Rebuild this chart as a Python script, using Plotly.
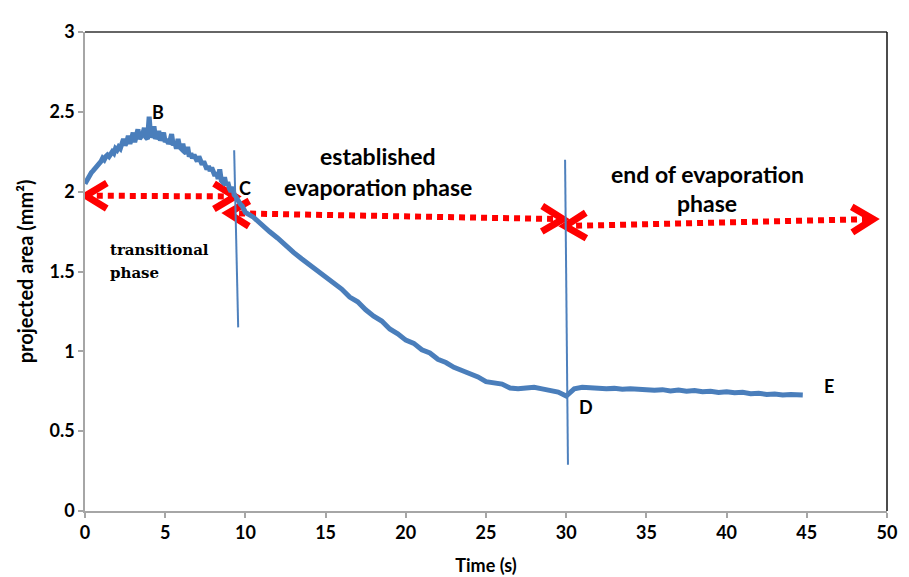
import plotly.graph_objects as go

# ---------------- data ----------------
time_s = [
    0.0, 0.1, 0.2, 0.3, 0.4, 0.5, 0.6, 0.7, 0.8, 0.9,
    1.0, 1.1, 1.2, 1.3, 1.4, 1.5, 1.6, 1.7, 1.8, 1.9,
    2.0, 2.1, 2.2, 2.3, 2.4, 2.5, 2.6, 2.7, 2.8, 2.9,
    3.0, 3.1, 3.2, 3.3, 3.4, 3.5, 3.6, 3.7, 3.8, 3.9,
    4.0, 4.1, 4.2, 4.3, 4.4, 4.5, 4.6, 4.7, 4.8, 4.9,
    5.0, 5.1, 5.2, 5.3, 5.4, 5.5, 5.6, 5.7, 5.8, 5.9,
    6.0, 6.1, 6.2, 6.3, 6.4, 6.5, 6.6, 6.7, 6.8, 6.9,
    7.0, 7.1, 7.2, 7.3, 7.4, 7.5, 7.6, 7.7, 7.8, 7.9,
    8.0, 8.1, 8.2, 8.3, 8.4, 8.5, 8.6, 8.7, 8.8, 8.9,
    9.0, 9.1, 9.2, 9.3, 9.4, 9.5, 9.6, 9.7, 9.8, 9.9,
    10.0, 10.5, 11.0, 11.5, 12.0, 12.5, 13.0, 13.5, 14.0, 14.5,
    15.0, 15.5, 16.0, 16.5, 17.0, 17.5, 18.0, 18.5, 19.0, 19.5,
    20.0, 20.5, 21.0, 21.5, 22.0, 22.5, 23.0, 23.5, 24.0, 24.5,
    25.0, 25.5, 26.0, 26.5, 27.0, 27.5, 28.0, 28.5, 29.0, 29.5,
    30.0, 30.5, 31.0, 31.5, 32.0, 32.5, 33.0, 33.5, 34.0, 34.5,
    35.0, 35.5, 36.0, 36.5, 37.0, 37.5, 38.0, 38.5, 39.0, 39.5,
    40.0, 40.5, 41.0, 41.5, 42.0, 42.5, 43.0, 43.5, 44.0, 44.5,
    44.75,
]
area_mm2 = [
    2.05, 2.07, 2.09, 2.10, 2.12, 2.13, 2.14, 2.16, 2.17, 2.18,
    2.19, 2.21, 2.20, 2.22, 2.23, 2.22, 2.24, 2.25, 2.24, 2.27,
    2.26, 2.28, 2.27, 2.30, 2.33, 2.29, 2.31, 2.35, 2.30, 2.33,
    2.37, 2.31, 2.34, 2.39, 2.33, 2.35, 2.36, 2.40, 2.34, 2.33,
    2.47, 2.34, 2.36, 2.41, 2.33, 2.35, 2.38, 2.32, 2.34, 2.37,
    2.31, 2.33, 2.30, 2.32, 2.36, 2.29, 2.31, 2.27, 2.33, 2.28,
    2.27, 2.30, 2.25, 2.24, 2.28, 2.22, 2.24, 2.21, 2.23, 2.20,
    2.19, 2.22, 2.18, 2.17, 2.19, 2.15, 2.14, 2.16, 2.13, 2.15,
    2.11, 2.10, 2.12, 2.08, 2.14, 2.07, 2.06, 2.09, 2.04, 2.06,
    2.02, 2.00, 2.03, 1.98, 1.97, 1.95, 1.94, 1.92, 1.91, 1.89,
    1.87, 1.84, 1.79, 1.75, 1.71, 1.66, 1.62, 1.58, 1.54, 1.50,
    1.47, 1.43, 1.39, 1.34, 1.31, 1.26, 1.22, 1.19, 1.14, 1.11,
    1.07, 1.05, 1.01, 0.99, 0.95, 0.93, 0.90, 0.88, 0.86, 0.84,
    0.81, 0.80, 0.795, 0.77, 0.765, 0.77, 0.775, 0.765, 0.755, 0.745,
    0.72, 0.765, 0.775, 0.77, 0.770, 0.765, 0.768, 0.762, 0.765, 0.760,
    0.762, 0.757, 0.760, 0.752, 0.757, 0.750, 0.755, 0.747, 0.750, 0.743,
    0.747, 0.740, 0.743, 0.735, 0.738, 0.730, 0.733, 0.727, 0.730, 0.725,
    0.727,
]

# phase boundary lines: (x_top, y_top, x_bottom, y_bottom)
boundary_lines = [
    (9.30, 2.26, 9.55, 1.15),
    (29.93, 2.20, 30.11, 0.29),
]

# double-headed dotted arrows: (x_start, y_start, x_end, y_end)
phase_arrows = [
    (0.05, 1.975, 9.35, 1.970),
    (8.92, 1.865, 29.80, 1.828),
    (29.93, 1.785, 49.13, 1.828),
]

# point labels: (text, x, y, xanchor)
point_labels = [
    ("A", -0.02, 2.012, "right"),
    ("B", 4.55, 2.50, "center"),
    ("C", 9.98, 2.02, "center"),
    ("D", 31.23, 0.65, "center"),
    ("E", 46.38, 0.785, "center"),
]

# phase texts: (text, x, y)
phase_texts = [
    ("established", 18.27, 2.222),
    ("evaporation phase", 18.27, 2.032),
    ("end of evaporation", 38.8, 2.112),
    ("phase", 38.8, 1.928),
]
transitional_text = ("transitional", "phase", 1.43, 1.635, 1.49)

x_ticks = [0, 5, 10, 15, 20, 25, 30, 35, 40, 45, 50]
y_ticks = [0, 0.5, 1, 1.5, 2, 2.5, 3]
y_tick_labels = ["0", "0.5", "1", "1.5", "2", "2.5", "3"]

# ---------------- figure ----------------
W, H = 909, 577
# page body has an 8px offset; margins chosen so plot area lands at x 85..887, y 22..511
M = dict(l=77, r=30, t=14, b=74)
X_RANGE = [0, 50]
Y_RANGE = [0, 3]
sx = (W - M["l"] - M["r"]) / (X_RANGE[1] - X_RANGE[0])
sy = (H - M["t"] - M["b"]) / (Y_RANGE[1] - Y_RANGE[0])

BLUE = "#4A7EBB"
RED = "#FF0000"
FONT = "Lato"

fig = go.Figure()

# red dotted arrows with chevron heads
for (x0, y0, x1, y1) in phase_arrows:
    fig.add_trace(go.Scatter(
        x=[x0, x1], y=[y0, y1], mode="lines",
        line=dict(color=RED, width=6, dash="6px,5px"),
        hoverinfo="skip", showlegend=False, cliponaxis=False,
    ))
    dx, dy = (x1 - x0) * sx, (y1 - y0) * sy
    n = (dx * dx + dy * dy) ** 0.5
    ux, uy = dx / n, dy / n
    px_, py_ = -uy, ux
    L, Wd = 21, 13
    for (tx, ty, s) in [(x1, y1, 1), (x0, y0, -1)]:
        ax1 = tx + (-s * L * ux + Wd * px_) / sx
        ay1 = ty + (-s * L * uy + Wd * py_) / sy
        ax2 = tx + (-s * L * ux - Wd * px_) / sx
        ay2 = ty + (-s * L * uy - Wd * py_) / sy
        fig.add_trace(go.Scatter(
            x=[ax1, tx, ax2], y=[ay1, ty, ay2], mode="lines",
            line=dict(color=RED, width=7),
            hoverinfo="skip", showlegend=False, cliponaxis=False,
        ))

# main curve
fig.add_trace(go.Scatter(
    x=time_s, y=area_mm2, mode="lines",
    line=dict(color=BLUE, width=5),
    showlegend=False,
))

# phase boundaries
for (xa, ya, xb, yb) in boundary_lines:
    fig.add_trace(go.Scatter(
        x=[xa, xb], y=[ya, yb], mode="lines",
        line=dict(color="#4F81BD", width=2),
        hoverinfo="skip", showlegend=False,
    ))

annotations = []
for (txt, x, y, xa) in point_labels:
    annotations.append(dict(
        text=txt, x=x, y=y, xref="x", yref="y", showarrow=False,
        xanchor=xa, yanchor="middle",
        font=dict(family=FONT, size=18, color="black", weight="bold"),
    ))
for (txt, x, y) in phase_texts:
    annotations.append(dict(
        text=txt, x=x, y=y, xref="x", yref="y", showarrow=False,
        xanchor="center", yanchor="middle",
        font=dict(family=FONT, size=23, color="black", weight="bold"),
    ))
t1, t2, tx, ty1, ty2 = transitional_text
for (txt, y) in [(t1, ty1), (t2, ty2)]:
    annotations.append(dict(
        text=txt, x=tx, y=y, xref="x", yref="y", showarrow=False,
        xanchor="left", yanchor="middle",
        font=dict(family="DejaVu Serif", size=15, color="black", weight="bold"),
    ))

axis_common = dict(
    showline=True, linecolor="#A6A6A6", linewidth=1.5,
    ticks="outside", ticklen=5, tickcolor="#A6A6A6", tickwidth=1.5,
    showgrid=False, zeroline=False,
    tickfont=dict(family=FONT, size=18, color="black", weight="bold"),
)

fig.update_layout(
    width=W, height=H, margin=M,
    paper_bgcolor="white", plot_bgcolor="white",
    xaxis=dict(range=X_RANGE, tickvals=x_ticks, ticktext=[str(v) for v in x_ticks],
               title=dict(text="Time (s)", font=dict(family=FONT, size=18, color="black", weight="bold"),
                          standoff=17),
               **axis_common),
    yaxis=dict(range=Y_RANGE, tickvals=y_ticks, ticktext=y_tick_labels,
               title=dict(text="projected area (mm²)", font=dict(family=FONT, size=20, color="black", weight="bold"),
                          standoff=10),
               **axis_common),
    annotations=annotations,
    shapes=[
        dict(type="line", xref="paper", yref="paper", x0=0, x1=1, y0=1, y1=1,
             line=dict(color="#333333", width=1.5)),
        dict(type="line", xref="paper", yref="paper", x0=1, x1=1, y0=0, y1=1,
             line=dict(color="#111111", width=1.5)),
    ],
)

fig.write_html("out.html")
